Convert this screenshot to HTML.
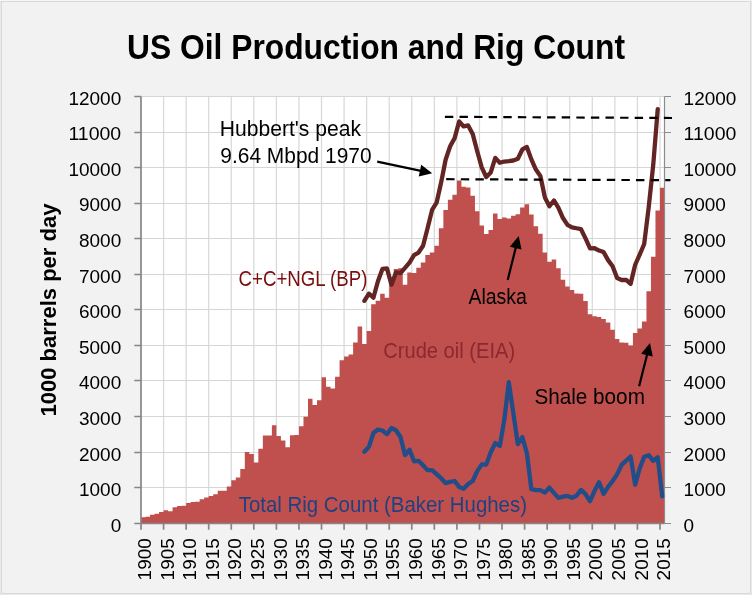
<!DOCTYPE html>
<html><head><meta charset="utf-8"><title>US Oil Production and Rig Count</title>
<style>html,body{margin:0;padding:0;background:#f2f2f2;}svg{display:block;will-change:transform;}</style>
</head><body>
<svg width="752" height="595" viewBox="0 0 752 595" font-family='"Liberation Sans", sans-serif'>
<rect x="0" y="0" width="752" height="595" fill="#e9e9e9"/>
<rect x="0" y="0" width="751" height="1" fill="#f7f7f7"/>
<rect x="1" y="1" width="750" height="593" fill="#d9d9d9"/>
<rect x="2" y="2" width="748" height="591" fill="#f2f2f2"/>
<rect x="141" y="96.4" width="523.5" height="427.1" fill="#ffffff"/>
<path d="M163.56 96.4V523.5M186.13 96.4V523.5M208.69 96.4V523.5M231.26 96.4V523.5M253.82 96.4V523.5M276.39 96.4V523.5M298.95 96.4V523.5M321.52 96.4V523.5M344.08 96.4V523.5M366.65 96.4V523.5M389.21 96.4V523.5M411.78 96.4V523.5M434.34 96.4V523.5M456.91 96.4V523.5M479.47 96.4V523.5M502.03 96.4V523.5M524.6 96.4V523.5M547.16 96.4V523.5M569.73 96.4V523.5M592.29 96.4V523.5M614.86 96.4V523.5M637.42 96.4V523.5M659.99 96.4V523.5" stroke="#d9d9d9" stroke-width="1.25" fill="none"/>
<path d="M141 96.5H664.5M141 132.5H664.5M141 167.5H664.5M141 203.5H664.5M141 238.5H664.5M141 274.5H664.5M141 309.5H664.5M141 345.5H664.5M141 380.5H664.5M141 416.5H664.5M141 452.5H664.5M141 487.5H664.5" stroke="#d6d6d6" stroke-width="1" fill="none"/>
<path d="M141 523.5V517.31H145.51V516.74H150.03V514.82H154.54V513.71H159.05V512.11H163.56V510.37H168.08V511.15H172.59V507.27H177.1V506.1H181.62V505.63H186.13V503.07H190.64V502H195.16V501.82H199.67V499.26H204.18V497.62H208.69V496.09H213.21V494.24H217.72V490.79H222.23V490.79H226.75V486.59H231.26V480.29H235.77V477.44H240.28V469.01H244.8V452.07H249.31V454.06H253.82V462.6H258.34V448.86H262.85V435.62H267.36V435.45H271.88V425.27H276.39V435.94H280.9V440.5H285.41V447.16H289.93V435.2H294.44V434.95H298.95V426.33H303.47V416.65H307.98V398.75H312.49V405.09H317V400.14H321.52V377.33H326.03V386.76H330.54V388.39H335.06V376.68H339.57V360.35H344.08V356.4H348.59V354.4H353.11V342.41H357.62V326.5H362.13V343.9H366.65V331.06H371.16V304.33H375.67V300.84H380.19V293.65H384.7V297.78H389.21V281.23H393.72V268.98H398.24V268.31H402.75V284.68H407.26V272.44H411.78V273.11H416.29V267.85H420.8V262.54H425.31V255.07H429.83V252.51H434.34V245.74H438.85V228.27H443.37V209.94H447.88V199.76H452.39V194.7H456.91V180.5H461.42V186.7H465.93V187.48H470.44V195.77H474.96V211.22H479.47V225.42H483.98V234.07H488.5V230.05H493.01V213.6H497.52V219.12H502.03V217.52H506.55V218.41H511.06V215.67H515.57V214.28H520.09V207.48H524.6V204.21H529.11V214.56H533.62V226.35H538.14V233.78H542.65V252.54H547.16V261.72H551.68V259.52H556.19V268.27H560.7V279.8H565.22V286.39H569.73V290.02H574.24V293.4H578.75V293.86H583.27V300.98H587.78V314.19H592.29V316.29H596.81V317.03H601.32V319.06H605.83V322.44H610.34V329.85H614.86V338.99H619.37V342.41H623.88V342.8H628.4V345.54H632.91V332.98H637.42V328.39H641.94V321.55H646.45V291.34H650.96V256.81H655.47V210.54H659.99V187.83H664.5V523.5Z" fill="#c0504d"/>
<path d="M141 96.4V529.7M134.3 96.5H141M134.3 132.5H141M134.3 167.5H141M134.3 203.5H141M134.3 238.5H141M134.3 274.5H141M134.3 309.5H141M134.3 345.5H141M134.3 380.5H141M134.3 416.5H141M134.3 452.5H141M134.3 487.5H141M134.3 523.5H141M163.56 523.5V529.7M186.13 523.5V529.7M208.69 523.5V529.7M231.26 523.5V529.7M253.82 523.5V529.7M276.39 523.5V529.7M298.95 523.5V529.7M321.52 523.5V529.7M344.08 523.5V529.7M366.65 523.5V529.7M389.21 523.5V529.7M411.78 523.5V529.7M434.34 523.5V529.7M456.91 523.5V529.7M479.47 523.5V529.7M502.03 523.5V529.7M524.6 523.5V529.7M547.16 523.5V529.7M569.73 523.5V529.7M592.29 523.5V529.7M614.86 523.5V529.7M637.42 523.5V529.7M659.99 523.5V529.7M141 523.5H664.5" stroke="#868686" stroke-width="1.7" fill="none"/>
<path d="M664.5 96.4V523.5M664.5 96.5H671M664.5 132.5H671M664.5 167.5H671M664.5 203.5H671M664.5 238.5H671M664.5 274.5H671M664.5 309.5H671M664.5 345.5H671M664.5 380.5H671M664.5 416.5H671M664.5 452.5H671M664.5 487.5H671M664.5 523.5H671" stroke="#8c8c8c" stroke-width="1.2" fill="none"/>
<polyline points="364.39,451.71 368.9,446.84 373.42,432.99 377.93,429.5 382.44,430.5 386.95,434.16 391.47,428.01 395.98,430.25 400.49,437.05 405.01,455.06 409.52,449.75 414.03,461.29 418.55,460.82 423.06,465.27 427.57,470.15 432.08,470.04 436.6,474.1 441.11,478.23 445.62,483.14 450.14,481.89 454.65,481 459.16,486.91 463.67,488.76 468.19,484.1 472.7,481 477.21,471.11 481.73,464.42 486.24,464.49 490.75,452.28 495.27,443.1 499.78,446.02 504.29,419.96 508.8,382.2 513.32,412.99 517.83,444.06 522.34,437.08 526.86,453.03 531.37,489.19 535.88,490.19 540.39,490.19 544.91,492.57 549.42,487.55 553.93,492.89 558.45,497.84 562.96,496.66 567.47,495.92 571.98,497.77 576.5,495.77 581.01,489.94 585.52,494.07 590.04,501.26 594.55,490.83 599.06,482.36 603.58,493.96 608.09,486.77 612.6,481.07 617.11,474.35 621.63,464.81 626.14,460.57 630.65,456.62 635.17,484.74 639.68,468.48 644.19,456.77 648.7,455.2 653.22,460.82 657.73,457.23 662.24,496.45" fill="none" stroke="#214d89" stroke-width="4.3" stroke-linejoin="round" stroke-linecap="round"/>
<polyline points="364.39,300.84 368.9,293.65 373.42,297.78 377.93,281.23 382.44,268.98 386.95,268.31 391.47,284.68 395.98,272.44 400.49,273.11 405.01,267.85 409.52,262.54 414.03,255.07 418.55,252.51 423.06,245.74 427.57,228.27 432.08,209.94 436.6,202.68 441.11,182.57 445.62,159.79 450.14,146.23 454.65,138.11 459.16,121.42 463.67,126.44 468.19,125.41 472.7,133.91 477.21,151.18 481.73,167.3 486.24,176.98 490.75,172.46 495.27,157.83 499.78,162.74 504.29,161.53 508.8,161.14 513.32,160.5 517.83,158.79 522.34,149.47 526.86,146.94 531.37,159.36 535.88,169.58 540.39,175.95 544.91,197.52 549.42,206.24 553.93,200.47 558.45,207.87 562.96,218.02 567.47,224.92 571.98,227.31 576.5,228.27 581.01,229.19 585.52,238.38 590.04,248.34 594.55,248.27 599.06,250.55 603.58,252.08 608.09,260.12 612.6,266.24 617.11,278.1 621.63,280.02 626.14,279.8 630.65,283.83 635.17,264.75 639.68,254.6 644.19,244 648.7,207.34 653.22,165.06 657.73,109.07" fill="none" stroke="#632523" stroke-width="4.3" stroke-linejoin="round" stroke-linecap="round"/>
<path d="M444.9 116.8L672 118" stroke="#000" stroke-width="2.2" stroke-dasharray="8.4 6.2" fill="none"/>
<path d="M446.2 179.2L670.5 180.2" stroke="#000" stroke-width="2.2" stroke-dasharray="8.4 6.2" fill="none"/>
<path d="M377.2 161.6L420.95 170.83" stroke="#000" stroke-width="2.2" fill="none"/><path d="M432.2 173.2L418.73 176.49L421.21 164.75Z" fill="#000"/>
<path d="M507.7 280L515.91 247.16" stroke="#000" stroke-width="2.2" fill="none"/><path d="M518.7 236L521.49 249.58L509.85 246.67Z" fill="#000"/>
<path d="M639.1 386.3L647.19 354.15" stroke="#000" stroke-width="2.2" fill="none"/><path d="M650 343L652.77 356.59L641.13 353.66Z" fill="#000"/>
<text x="127" y="59.3" font-size="35.5" fill="#000" font-weight="bold" textLength="498" lengthAdjust="spacingAndGlyphs">US Oil Production and Rig Count</text>
<text x="121.2" y="104.7" font-size="18.8" fill="#000" text-anchor="end" textLength="52.75" lengthAdjust="spacingAndGlyphs">12000</text>
<text x="683.6" y="104.7" font-size="18.8" fill="#000" textLength="52.75" lengthAdjust="spacingAndGlyphs">12000</text>
<text x="121.2" y="140.29" font-size="18.8" fill="#000" text-anchor="end" textLength="52.75" lengthAdjust="spacingAndGlyphs">11000</text>
<text x="683.6" y="140.29" font-size="18.8" fill="#000" textLength="52.75" lengthAdjust="spacingAndGlyphs">11000</text>
<text x="121.2" y="175.88" font-size="18.8" fill="#000" text-anchor="end" textLength="52.75" lengthAdjust="spacingAndGlyphs">10000</text>
<text x="683.6" y="175.88" font-size="18.8" fill="#000" textLength="52.75" lengthAdjust="spacingAndGlyphs">10000</text>
<text x="121.2" y="211.48" font-size="18.8" fill="#000" text-anchor="end" textLength="42.2" lengthAdjust="spacingAndGlyphs">9000</text>
<text x="683.6" y="211.48" font-size="18.8" fill="#000" textLength="42.2" lengthAdjust="spacingAndGlyphs">9000</text>
<text x="121.2" y="247.07" font-size="18.8" fill="#000" text-anchor="end" textLength="42.2" lengthAdjust="spacingAndGlyphs">8000</text>
<text x="683.6" y="247.07" font-size="18.8" fill="#000" textLength="42.2" lengthAdjust="spacingAndGlyphs">8000</text>
<text x="121.2" y="282.66" font-size="18.8" fill="#000" text-anchor="end" textLength="42.2" lengthAdjust="spacingAndGlyphs">7000</text>
<text x="683.6" y="282.66" font-size="18.8" fill="#000" textLength="42.2" lengthAdjust="spacingAndGlyphs">7000</text>
<text x="121.2" y="318.25" font-size="18.8" fill="#000" text-anchor="end" textLength="42.2" lengthAdjust="spacingAndGlyphs">6000</text>
<text x="683.6" y="318.25" font-size="18.8" fill="#000" textLength="42.2" lengthAdjust="spacingAndGlyphs">6000</text>
<text x="121.2" y="353.84" font-size="18.8" fill="#000" text-anchor="end" textLength="42.2" lengthAdjust="spacingAndGlyphs">5000</text>
<text x="683.6" y="353.84" font-size="18.8" fill="#000" textLength="42.2" lengthAdjust="spacingAndGlyphs">5000</text>
<text x="121.2" y="389.43" font-size="18.8" fill="#000" text-anchor="end" textLength="42.2" lengthAdjust="spacingAndGlyphs">4000</text>
<text x="683.6" y="389.43" font-size="18.8" fill="#000" textLength="42.2" lengthAdjust="spacingAndGlyphs">4000</text>
<text x="121.2" y="425.03" font-size="18.8" fill="#000" text-anchor="end" textLength="42.2" lengthAdjust="spacingAndGlyphs">3000</text>
<text x="683.6" y="425.03" font-size="18.8" fill="#000" textLength="42.2" lengthAdjust="spacingAndGlyphs">3000</text>
<text x="121.2" y="460.62" font-size="18.8" fill="#000" text-anchor="end" textLength="42.2" lengthAdjust="spacingAndGlyphs">2000</text>
<text x="683.6" y="460.62" font-size="18.8" fill="#000" textLength="42.2" lengthAdjust="spacingAndGlyphs">2000</text>
<text x="121.2" y="496.21" font-size="18.8" fill="#000" text-anchor="end" textLength="42.2" lengthAdjust="spacingAndGlyphs">1000</text>
<text x="683.6" y="496.21" font-size="18.8" fill="#000" textLength="42.2" lengthAdjust="spacingAndGlyphs">1000</text>
<text x="121.2" y="531.8" font-size="18.8" fill="#000" text-anchor="end" textLength="10.55" lengthAdjust="spacingAndGlyphs">0</text>
<text x="683.6" y="531.8" font-size="18.8" fill="#000" textLength="10.55" lengthAdjust="spacingAndGlyphs">0</text>
<text transform="translate(151.2,538.2) rotate(-90)" x="0" y="0" font-size="18.8" text-anchor="end" textLength="42.2" lengthAdjust="spacingAndGlyphs">1900</text>
<text transform="translate(173.76,538.2) rotate(-90)" x="0" y="0" font-size="18.8" text-anchor="end" textLength="42.2" lengthAdjust="spacingAndGlyphs">1905</text>
<text transform="translate(196.33,538.2) rotate(-90)" x="0" y="0" font-size="18.8" text-anchor="end" textLength="42.2" lengthAdjust="spacingAndGlyphs">1910</text>
<text transform="translate(218.89,538.2) rotate(-90)" x="0" y="0" font-size="18.8" text-anchor="end" textLength="42.2" lengthAdjust="spacingAndGlyphs">1915</text>
<text transform="translate(241.46,538.2) rotate(-90)" x="0" y="0" font-size="18.8" text-anchor="end" textLength="42.2" lengthAdjust="spacingAndGlyphs">1920</text>
<text transform="translate(264.02,538.2) rotate(-90)" x="0" y="0" font-size="18.8" text-anchor="end" textLength="42.2" lengthAdjust="spacingAndGlyphs">1925</text>
<text transform="translate(286.59,538.2) rotate(-90)" x="0" y="0" font-size="18.8" text-anchor="end" textLength="42.2" lengthAdjust="spacingAndGlyphs">1930</text>
<text transform="translate(309.15,538.2) rotate(-90)" x="0" y="0" font-size="18.8" text-anchor="end" textLength="42.2" lengthAdjust="spacingAndGlyphs">1935</text>
<text transform="translate(331.72,538.2) rotate(-90)" x="0" y="0" font-size="18.8" text-anchor="end" textLength="42.2" lengthAdjust="spacingAndGlyphs">1940</text>
<text transform="translate(354.28,538.2) rotate(-90)" x="0" y="0" font-size="18.8" text-anchor="end" textLength="42.2" lengthAdjust="spacingAndGlyphs">1945</text>
<text transform="translate(376.85,538.2) rotate(-90)" x="0" y="0" font-size="18.8" text-anchor="end" textLength="42.2" lengthAdjust="spacingAndGlyphs">1950</text>
<text transform="translate(399.41,538.2) rotate(-90)" x="0" y="0" font-size="18.8" text-anchor="end" textLength="42.2" lengthAdjust="spacingAndGlyphs">1955</text>
<text transform="translate(421.98,538.2) rotate(-90)" x="0" y="0" font-size="18.8" text-anchor="end" textLength="42.2" lengthAdjust="spacingAndGlyphs">1960</text>
<text transform="translate(444.54,538.2) rotate(-90)" x="0" y="0" font-size="18.8" text-anchor="end" textLength="42.2" lengthAdjust="spacingAndGlyphs">1965</text>
<text transform="translate(467.11,538.2) rotate(-90)" x="0" y="0" font-size="18.8" text-anchor="end" textLength="42.2" lengthAdjust="spacingAndGlyphs">1970</text>
<text transform="translate(489.67,538.2) rotate(-90)" x="0" y="0" font-size="18.8" text-anchor="end" textLength="42.2" lengthAdjust="spacingAndGlyphs">1975</text>
<text transform="translate(512.23,538.2) rotate(-90)" x="0" y="0" font-size="18.8" text-anchor="end" textLength="42.2" lengthAdjust="spacingAndGlyphs">1980</text>
<text transform="translate(534.8,538.2) rotate(-90)" x="0" y="0" font-size="18.8" text-anchor="end" textLength="42.2" lengthAdjust="spacingAndGlyphs">1985</text>
<text transform="translate(557.36,538.2) rotate(-90)" x="0" y="0" font-size="18.8" text-anchor="end" textLength="42.2" lengthAdjust="spacingAndGlyphs">1990</text>
<text transform="translate(579.93,538.2) rotate(-90)" x="0" y="0" font-size="18.8" text-anchor="end" textLength="42.2" lengthAdjust="spacingAndGlyphs">1995</text>
<text transform="translate(602.49,538.2) rotate(-90)" x="0" y="0" font-size="18.8" text-anchor="end" textLength="42.2" lengthAdjust="spacingAndGlyphs">2000</text>
<text transform="translate(625.06,538.2) rotate(-90)" x="0" y="0" font-size="18.8" text-anchor="end" textLength="42.2" lengthAdjust="spacingAndGlyphs">2005</text>
<text transform="translate(647.62,538.2) rotate(-90)" x="0" y="0" font-size="18.8" text-anchor="end" textLength="42.2" lengthAdjust="spacingAndGlyphs">2010</text>
<text transform="translate(670.19,538.2) rotate(-90)" x="0" y="0" font-size="18.8" text-anchor="end" textLength="42.2" lengthAdjust="spacingAndGlyphs">2015</text>
<text transform="translate(56.1,416.5) rotate(-90)" x="0" y="0" font-size="22.3" font-weight="bold" textLength="213" lengthAdjust="spacingAndGlyphs">1000 barrels per day</text>
<text x="219.8" y="135.9" font-size="22" fill="#000" textLength="141.2" lengthAdjust="spacingAndGlyphs">Hubbert's peak</text>
<text x="220.3" y="163.2" font-size="22" fill="#000" textLength="151.3" lengthAdjust="spacingAndGlyphs">9.64 Mbpd 1970</text>
<text x="238.6" y="286" font-size="22" fill="#7a0e0e" textLength="128.8" lengthAdjust="spacingAndGlyphs">C+C+NGL (BP)</text>
<text x="468.4" y="303.8" font-size="22" fill="#000" textLength="58.6" lengthAdjust="spacingAndGlyphs">Alaska</text>
<text x="383.3" y="357.6" font-size="22" fill="#8b2831" textLength="131.8" lengthAdjust="spacingAndGlyphs">Crude oil (EIA)</text>
<text x="534.4" y="403.5" font-size="22" fill="#000" textLength="110.5" lengthAdjust="spacingAndGlyphs">Shale boom</text>
<text x="238.7" y="511.7" font-size="22" fill="#1f4181" textLength="288.3" lengthAdjust="spacingAndGlyphs">Total Rig Count (Baker Hughes)</text>
</svg>
</body></html>
